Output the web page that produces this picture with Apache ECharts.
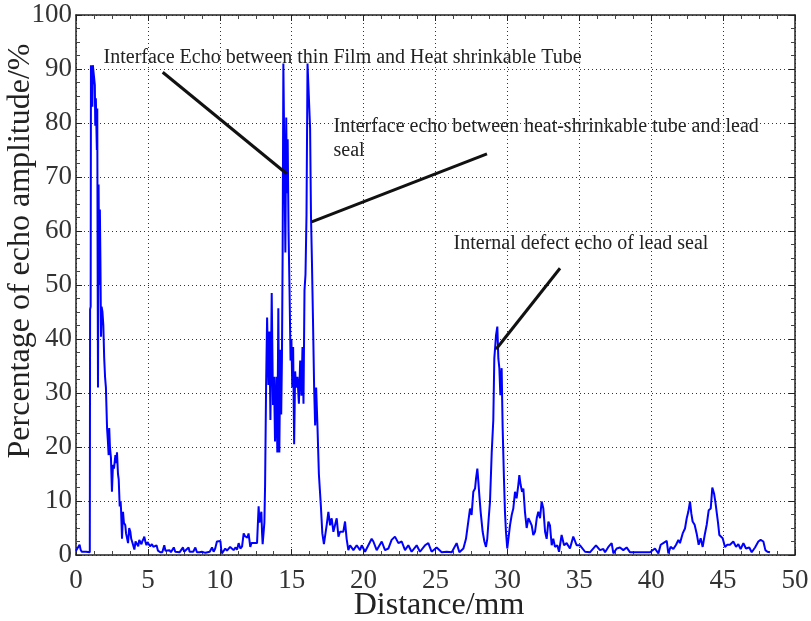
<!DOCTYPE html>
<html>
<head>
<meta charset="utf-8">
<script src="https://cdn.jsdelivr.net/npm/echarts@6/dist/echarts.min.js"></script>
<style>html,body{margin:0;padding:0;background:#fff}#c{width:811px;height:621px}</style>
</head>
<body>
<div id="c"></div>
<script>
// Axis ranges / ticks
const xRange = [0, 50];
const xTickStep = 5;
const yRange = [0, 100];
const yTickStep = 10;
const xTitle = 'Distance/mm';
const yTitle = 'Percentage of echo amplitude/%';

// Echo signal: [distance (mm), amplitude (%)]
const echoSamples = [
[0.00,0.8],[0.12,0.9],[0.25,1.9],[0.32,1.0],[0.40,0.6],[0.70,0.6],[0.96,0.5],[0.98,45.5],[1.02,46],[1.04,90.7],
[1.12,90.7],[1.14,83],[1.17,90.7],[1.29,90.7],[1.31,87],[1.34,79.5],[1.38,84.6],[1.41,84.6],[1.45,75],[1.48,82.7],
[1.50,58],[1.53,31],[1.57,68.6],[1.60,56],[1.63,50],[1.66,64],[1.70,54],[1.74,40.4],[1.78,46],[1.84,45],
[1.90,42.6],[1.96,36.5],[2.02,33],[2.08,31],[2.16,23.5],[2.22,21],[2.27,18.5],[2.31,23.5],[2.36,20],[2.43,18],
[2.50,11.7],[2.57,16.7],[2.64,16],[2.74,18.5],[2.80,17],[2.85,19],[2.92,15],[2.97,14],[3.04,9],[3.10,10],
[3.13,8.6],[3.20,3],[3.27,8],[3.33,6],[3.43,5.5],[3.48,4],[3.55,3.7],[3.62,2.2],[3.70,5],[3.78,4.3],
[3.84,3],[3.90,2.5],[3.97,2.8],[4.06,1],[4.14,2.5],[4.24,2.5],[4.33,1.6],[4.40,2.8],[4.47,2.5],[4.55,2],
[4.62,2.6],[4.70,3],[4.75,3.4],[4.82,2.5],[4.90,1.8],[4.97,2.4],[5.05,2.2],[5.15,1.6],[5.28,2],[5.38,1.5],
[5.50,1.2],[5.60,1.8],[5.70,0.8],[5.86,0.5],[6.00,0.5],[6.14,1.8],[6.22,0.8],[6.33,0.5],[6.50,0.9],[6.60,0.5],
[6.80,1.4],[6.90,0.6],[7.02,0.5],[7.20,0.5],[7.44,1.4],[7.52,0.6],[7.60,0.5],[7.83,1.4],[7.90,0.6],[7.95,0.5],
[8.15,0.6],[8.30,1.4],[8.41,0.5],[8.60,0.5],[8.75,0.6],[8.88,0.9],[9.00,0.4],[9.11,0.5],[9.30,0.6],[9.46,1.4],
[9.57,0.6],[9.68,1.2],[9.80,2.5],[9.92,2.2],[10.04,2.6],[10.10,1.0],[10.15,0.3],[10.25,0.6],[10.38,1.2],[10.50,0.8],
[10.62,0.9],[10.72,1.5],[10.85,1.8],[10.96,0.9],[11.10,1.4],[11.20,1.0],[11.31,2.2],[11.43,1.2],[11.55,1.6],[11.66,4],
[11.75,3.5],[11.85,3.7],[11.92,3.2],[12.00,4],[12.12,1.5],[12.20,2.2],[12.36,2.2],[12.45,2.4],[12.59,2.2],[12.70,9],
[12.76,6],[12.82,7],[12.89,8],[12.94,4],[12.98,2],[13.04,4],[13.10,6],[13.15,13],[13.22,31.5],[13.29,44],
[13.38,31.5],[13.45,41.4],[13.52,25],[13.61,48.5],[13.70,27.8],[13.77,33],[13.84,21],[13.93,33],[14.00,19],[14.07,45.7],
[14.14,19],[14.21,38],[14.27,26],[14.32,36],[14.37,56],[14.42,91],[14.49,91],[14.56,56],[14.62,81],[14.67,67],
[14.72,77],[14.78,60],[14.85,49],[14.92,36],[14.98,40],[15.04,31],[15.10,38.5],[15.17,20.5],[15.24,34],[15.31,31],
[15.40,33],[15.50,28],[15.59,36],[15.68,29.5],[15.75,38.5],[15.82,28],[15.89,49],[15.96,52],[16.03,63],[16.10,91],
[16.22,91],[16.28,79],[16.34,63],[16.41,54],[16.48,43.6],[16.56,31],[16.63,24],[16.70,31],[16.79,24],[16.89,15],
[16.96,12],[17.03,9],[17.13,4],[17.24,2],[17.32,2.2],[17.43,5.5],[17.55,8],[17.67,5.5],[17.78,6.8],[17.90,4.3],
[18.01,5.5],[18.13,6.8],[18.25,3.4],[18.36,4.3],[18.59,4.3],[18.71,6.2],[18.82,3],[18.94,0.9],[19.06,1.8],[19.29,0.9],
[19.52,1.8],[19.75,0.9],[19.87,1.8],[20.10,0.6],[20.33,1.8],[20.56,3],[20.68,2.5],[20.91,0.9],[21.00,0.6],[21.26,2.5],
[21.49,0.9],[21.72,1.2],[21.95,2.8],[22.18,3.4],[22.42,2.2],[22.65,2.5],[22.88,0.9],[23.11,1.8],[23.34,0.6],[23.69,1.8],
[23.92,0.6],[24.27,1.8],[24.50,2.2],[24.73,0.6],[25.08,1.4],[25.43,0.5],[25.78,0.6],[26.13,0.5],[26.47,2.2],[26.66,0.5],
[26.94,1.2],[27.12,3],[27.28,6.2],[27.40,8.6],[27.51,7.4],[27.63,11.7],[27.75,12.3],[27.82,14.2],[27.91,16],[27.98,13.6],
[28.05,11],[28.14,8],[28.28,4.3],[28.40,2.5],[28.51,1.5],[28.60,3],[28.70,6.8],[28.79,9.9],[28.91,19],[29.02,25],
[29.09,36.4],[29.21,40.7],[29.30,42.3],[29.37,36.4],[29.44,34.6],[29.51,29.6],[29.60,34.6],[29.67,23.5],[29.76,14.2],[29.83,8],
[29.90,4.3],[29.99,1.2],[30.07,3],[30.18,5.5],[30.30,7.4],[30.41,8.6],[30.53,11.7],[30.64,10.5],[30.76,13],[30.83,14.8],
[30.92,13],[31.02,11.7],[31.11,12.3],[31.22,8],[31.34,5],[31.46,6.8],[31.57,6.2],[31.69,5.5],[31.80,3.7],[31.92,4.3],
[32.04,6.8],[32.15,8],[32.27,6.8],[32.38,9.9],[32.50,8.6],[32.62,4.3],[32.73,3],[32.85,6.2],[32.96,5.5],[33.08,1.8],
[33.19,3],[33.31,1.5],[33.47,1.8],[33.59,0.6],[33.77,3.7],[33.94,1.8],[34.12,2.2],[34.35,1.2],[34.58,3.4],[34.82,1.8],
[35.05,1.8],[35.40,0.6],[35.74,0.5],[36.16,1.8],[36.44,0.9],[36.67,1.1],[36.79,0.5],[37.02,1.5],[37.25,2.2],[37.37,0.3],
[37.60,1.2],[37.83,1.4],[38.06,0.9],[38.29,1.4],[38.53,0.5],[39.92,0.5],[40.26,1.2],[40.50,0.3],[40.66,1.9],[40.84,2.2],
[41.08,2.6],[41.19,0.3],[41.35,1.5],[41.54,1.1],[41.73,1.9],[41.89,2.8],[42.00,2.2],[42.19,4],[42.35,4.9],[42.47,6.8],
[42.58,8],[42.70,9.9],[42.79,7.7],[42.88,6.2],[43.02,5.6],[43.16,4],[43.30,1.9],[43.44,3.1],[43.58,1.5],[43.72,3.7],
[43.86,5.6],[44.00,8.3],[44.14,8.6],[44.25,12.5],[44.37,11.4],[44.46,9.9],[44.55,8],[44.65,5.9],[44.74,3.7],[44.85,3.4],
[44.97,3.1],[45.13,1.5],[45.29,1.9],[45.48,1.9],[45.71,2.5],[45.90,1.5],[46.06,2],[46.22,1.1],[46.41,2.2],[46.59,1.2],
[46.82,1.4],[46.99,0.5],[47.22,1.4],[47.45,2.5],[47.61,2.8],[47.80,2.5],[47.94,0.9],[48.08,0.6],[48.26,0.5]
];

// Annotation texts (anchor at left-middle, in data units)
const noteTexts = [
  'Interface Echo between thin Film and Heat shrinkable Tube',
  'Interface echo between heat-shrinkable tube and lead\nseal',
  'Internal defect echo of lead seal'
];
const noteTextAnchors = [[1.88, 92.0], [17.87, 77.1], [26.22, 57.6]];
// Annotation pointer lines: [from, to] in data units
const noteLines = [
  [[6.03, 89.4], [14.65, 70.6]],
  [[16.39, 61.7], [28.58, 74.3]],
  [[29.21, 38.1], [33.66, 53.1]]
];

const serif = 'Liberation Serif';
const chart = echarts.init(document.getElementById('c'), null, {renderer: 'canvas'});

function axisBase(extra) {
  return Object.assign({
    type: 'value',
    axisLine: {show: true, onZero: false, lineStyle: {color: '#222', width: 1.5}},
    axisTick: {show: true, inside: true, length: 6, lineStyle: {color: '#222', width: 1}},
    minorTick: {show: true, splitNumber: 4, length: 4, lineStyle: {color: '#444', width: 1}},
    splitLine: {show: false}
  }, extra);
}

chart.setOption({
  animation: false,
  backgroundColor: '#fff',
  grid: {left: 76, right: 16, top: 15, bottom: 66, containLabel: false, outerBoundsMode: 'none'},
  xAxis: [
    axisBase({
      position: 'bottom', min: xRange[0], max: xRange[1], interval: xTickStep,
      axisLabel: {fontFamily: serif, fontSize: 27, color: '#333', margin: 12},
      splitLine: {show: true, lineStyle: {type: [1, 3], color: '#333', width: 1}}
    }),
    axisBase({position: 'top', min: xRange[0], max: xRange[1], interval: xTickStep, axisLabel: {show: false}})
  ],
  yAxis: [
    axisBase({
      position: 'left', min: yRange[0], max: yRange[1], interval: yTickStep,
      axisLabel: {fontFamily: serif, fontSize: 27, color: '#333', margin: 4},
      splitLine: {show: true, lineStyle: {type: [1, 3], color: '#333', width: 1}}
    }),
    axisBase({position: 'right', min: yRange[0], max: yRange[1], interval: yTickStep, axisLabel: {show: false}})
  ],
  graphic: [{
    type: 'text', x: 21, y: 251, rotation: Math.PI / 2,
    style: {text: yTitle, font: '32px "Liberation Serif"', fill: '#222', textAlign: 'center', textVerticalAlign: 'middle'}
  }, {
    type: 'text', x: 439, y: 606,
    style: {text: xTitle, font: '32px "Liberation Serif"', fill: '#222', textAlign: 'center', textVerticalAlign: 'middle'}
  }],
  series: [{
    type: 'line',
    data: echoSamples,
    showSymbol: false,
    symbol: 'none',
    lineStyle: {color: '#0000ff', width: 2},
    itemStyle: {color: '#0000ff'},
    silent: true,
    z: 3,
    markLine: {
      silent: true,
      symbol: ['none', 'none'],
      label: {show: false},
      lineStyle: {color: '#111', width: 3, type: 'solid'},
      data: noteLines.map(l => [{coord: l[0]}, {coord: l[1]}])
    },
    markPoint: {
      silent: true,
      symbol: 'rect',
      symbolSize: 1,
      itemStyle: {color: 'rgba(0,0,0,0)'},
      label: {
        show: true, position: 'right', distance: 0,
        fontFamily: serif, fontSize: 20, color: '#222', lineHeight: 24,
        formatter: p => p.name
      },
      data: noteTexts.map((t, i) => ({name: t, coord: noteTextAnchors[i]}))
    }
  }]
});
</script>
</body>
</html>
